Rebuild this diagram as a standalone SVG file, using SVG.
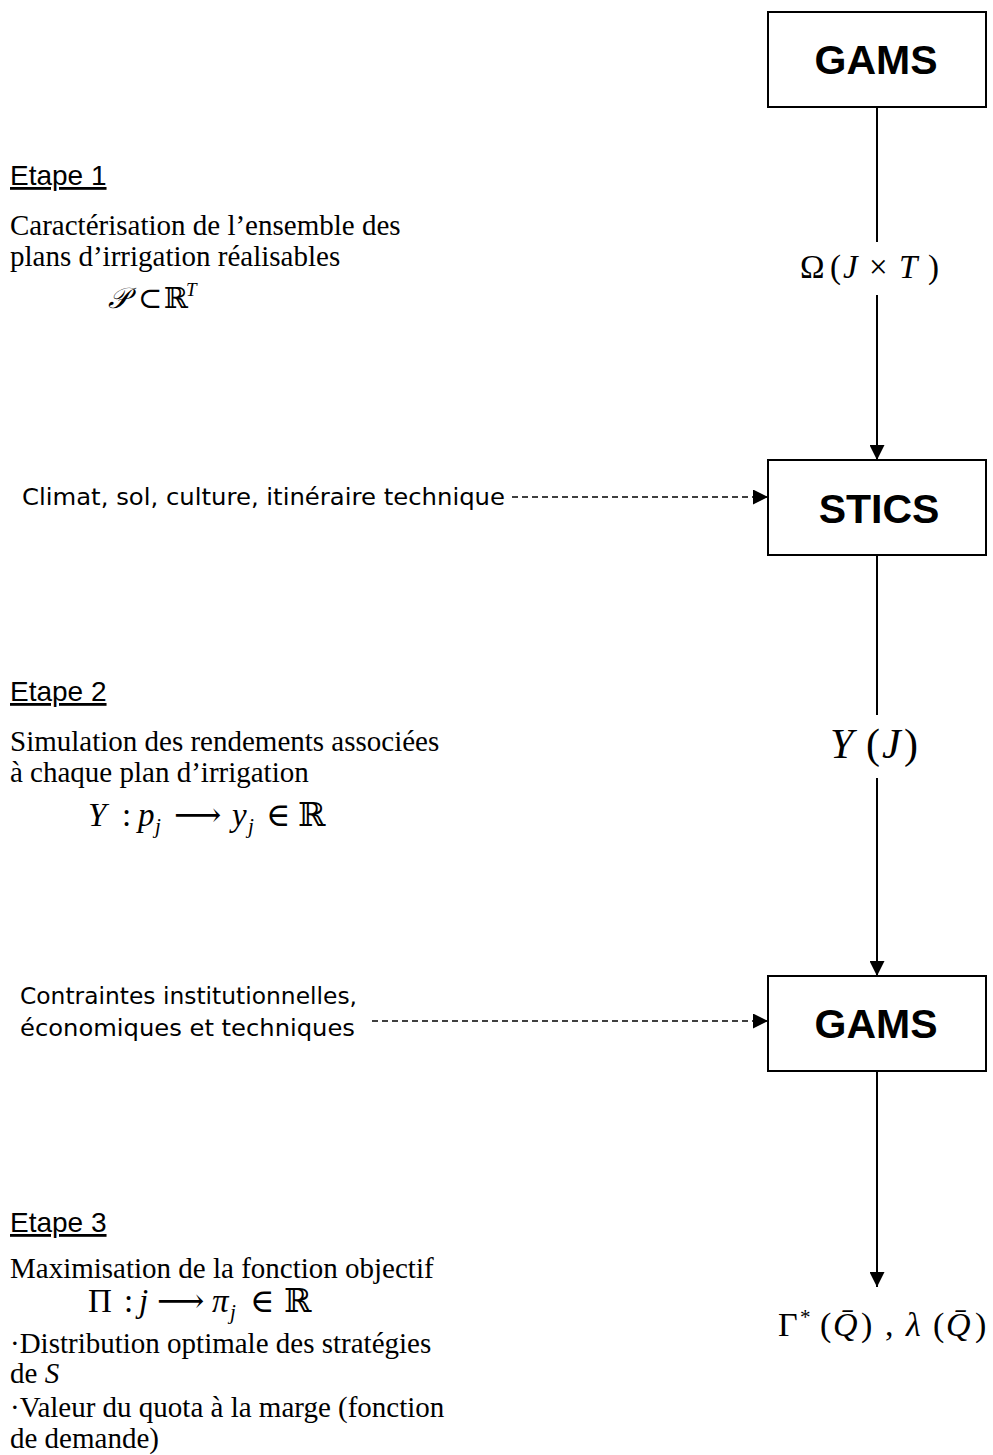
<svg xmlns="http://www.w3.org/2000/svg" width="993" height="1455" viewBox="0 0 993 1455">
<style>
.box{fill:#fff;stroke:#000;stroke-width:2}
.bt{font-family:"Liberation Sans",Arial,sans-serif;font-weight:bold;font-size:41px;text-anchor:middle;fill:#000}
.step{font-family:"Liberation Sans",Arial,sans-serif;font-size:28px;text-decoration:underline;fill:#000}
.desc{font-family:"Liberation Serif","DejaVu Serif",serif;font-size:29px;fill:#000}
.inp{font-family:"DejaVu Sans",Verdana,sans-serif;font-size:23px;fill:#000}
.math{font-family:"Liberation Serif","DejaVu Serif",serif;font-size:33px;fill:#000}
.dv{font-family:"DejaVu Serif",serif}
.it{font-style:italic}
.ln{stroke:#000;stroke-width:2;fill:none}
.dash{stroke:#000;stroke-width:1.5;fill:none;stroke-dasharray:6,4}
</style>
<defs>
<marker id="ah" markerUnits="userSpaceOnUse" markerWidth="15" markerHeight="15" viewBox="0 0 15 15" refX="15" refY="7.5" orient="auto">
<path d="M0,0 L15,7.5 L0,15 Z" fill="#000"/>
</marker>
</defs>

<g id="connectors">
<line class="ln" x1="877" y1="107" x2="877" y2="242"/>
<line class="ln" x1="877" y1="295" x2="877" y2="460" marker-end="url(#ah)"/>
<line class="ln" x1="877" y1="555" x2="877" y2="715"/>
<line class="ln" x1="877" y1="778" x2="877" y2="976" marker-end="url(#ah)"/>
<line class="ln" x1="877" y1="1071" x2="877" y2="1287" marker-end="url(#ah)"/>
<line class="dash" x1="512" y1="497" x2="768" y2="497" marker-end="url(#ah)"/>
<line class="dash" x1="372" y1="1021" x2="768" y2="1021" marker-end="url(#ah)"/>
</g>

<g id="gams1">
<rect class="box" x="768" y="12" width="218" height="95"/>
<text class="bt" x="876" y="74">GAMS</text>
</g>
<g id="stics">
<rect class="box" x="768" y="460" width="218" height="95"/>
<text class="bt" x="879" y="523">STICS</text>
</g>
<g id="gams2">
<rect class="box" x="768" y="976" width="218" height="95"/>
<text class="bt" x="876" y="1038">GAMS</text>
</g>

<g id="flow-labels">
<text class="math" y="278"><tspan x="800">Ω</tspan><tspan x="830">(</tspan><tspan x="843" class="it">J</tspan><tspan x="869">×</tspan><tspan x="899" class="it">T</tspan><tspan x="928">)</tspan></text>
<text class="math" y="758" style="font-size:42px"><tspan x="830" class="it">Y</tspan><tspan x="866">(</tspan><tspan x="882" class="it">J</tspan><tspan x="904">)</tspan></text>
<text class="math" y="1336" style="font-size:34px"><tspan x="778">Γ</tspan><tspan x="800" dy="-12" font-size="21">*</tspan><tspan x="820" dy="12">(</tspan><tspan x="833" class="it">Q̄</tspan><tspan x="861">)</tspan><tspan x="885">,</tspan><tspan x="906" class="it">λ</tspan><tspan x="933">(</tspan><tspan x="946" class="it">Q̄</tspan><tspan x="975">)</tspan></text>
</g>

<g id="input1">
<text class="inp" x="22" y="505" textLength="483" lengthAdjust="spacingAndGlyphs">Climat, sol, culture, itinéraire technique</text>
</g>
<g id="input2">
<text class="inp" x="20" y="1004" textLength="337" lengthAdjust="spacingAndGlyphs">Contraintes institutionnelles,</text>
<text class="inp" x="20" y="1036" textLength="335" lengthAdjust="spacingAndGlyphs">économiques et techniques</text>
</g>

<g id="etape1">
<text class="step" x="10" y="185">Etape 1</text>
<text class="desc" x="10" y="235">Caractérisation de l’ensemble des</text>
<text class="desc" x="10" y="266">plans d’irrigation réalisables</text>
<text class="math" y="308" style="font-size:29px"><tspan x="108" class="it dv">𝒫</tspan><tspan x="138">⊂</tspan><tspan x="164" class="dv">ℝ</tspan><tspan x="186" dy="-12" class="it" font-size="19">T</tspan></text>
</g>

<g id="etape2">
<text class="step" x="10" y="701">Etape 2</text>
<text class="desc" x="10" y="751">Simulation des rendements associées</text>
<text class="desc" x="10" y="782">à chaque plan d’irrigation</text>
<text class="math" y="826"><tspan x="88" class="it">Y</tspan><tspan x="122">:</tspan><tspan x="138" class="it">p</tspan><tspan x="155" dy="7" class="it" font-size="21">j</tspan><tspan x="174" dy="-7" class="dv">⟶</tspan><tspan x="232" class="it">y</tspan><tspan x="248" dy="7" class="it" font-size="21">j</tspan><tspan x="266" dy="-7">∈</tspan><tspan x="298" class="dv">ℝ</tspan></text>
</g>

<g id="etape3">
<text class="step" x="10" y="1232">Etape 3</text>
<text class="desc" x="10" y="1278">Maximisation de la fonction objectif</text>
<text class="math" y="1312"><tspan x="88">Π</tspan><tspan x="124">:</tspan><tspan x="139" class="it">j</tspan><tspan x="157" class="dv">⟶</tspan><tspan x="212" class="it">π</tspan><tspan x="230" dy="7" class="it" font-size="21">j</tspan><tspan x="250" dy="-7">∈</tspan><tspan x="284" class="dv">ℝ</tspan></text>
<text class="desc" x="10" y="1353">·Distribution optimale des stratégies</text>
<text class="desc" x="10" y="1383">de <tspan class="it">S</tspan></text>
<text class="desc" x="10" y="1417">·Valeur du quota à la marge (fonction</text>
<text class="desc" x="10" y="1448">de demande)</text>
</g>
</svg>
